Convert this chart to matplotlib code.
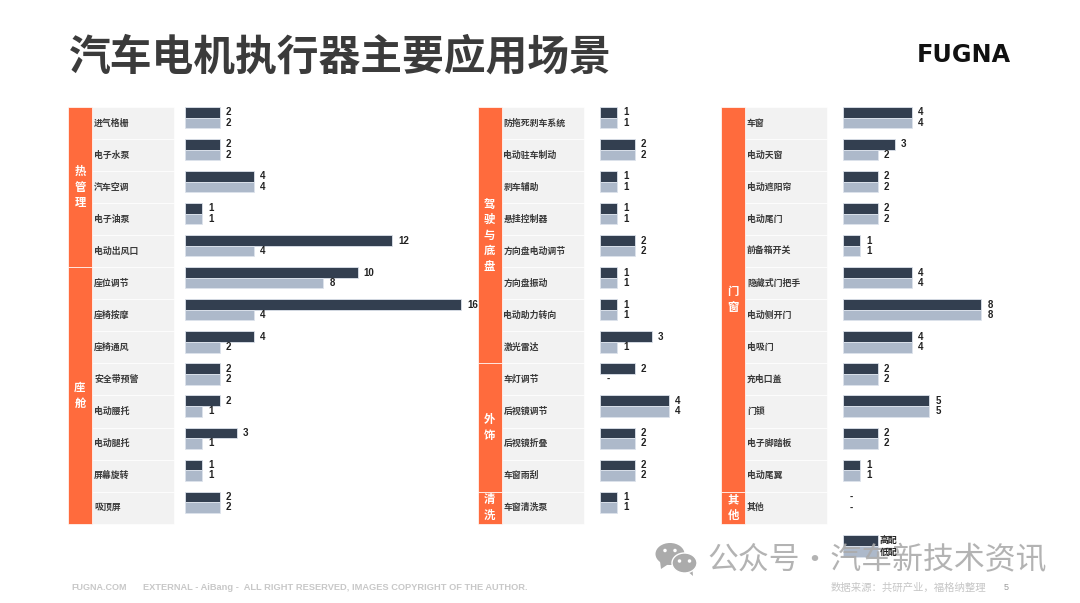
import matplotlib
matplotlib.use('Agg')
import matplotlib.pyplot as plt
from matplotlib.patches import Rectangle, Ellipse, Polygon

plt.rcParams['font.family'] = ['Noto Sans CJK SC', 'DejaVu Sans']

W, H = 1080, 603
ROW_TOP = 107
ROW_H = 32.05
UNIT = 17.25  # pixels for one count

names_1 = ['进气格栅', '电子水泵', '汽车空调', '电子油泵', '电动出风口', '座位调节', '座椅按摩',
           '座椅通风', '安全带预警', '电动腰托', '电动腿托', '屏幕旋转', '吸顶屏']
high_1 = [2, 2, 4, 1, 12, 10, 16, 4, 2, 2, 3, 1, 2]
low_1 = [2, 2, 4, 1, 4, 8, 4, 2, 2, 1, 1, 1, 2]
groups_1 = [('热管理', 5), ('座舱', 8)]

names_2 = ['防拖死刹车系统', '电动驻车制动', '刹车辅助', '悬挂控制器', '方向盘电动调节', '方向盘振动',
           '电动助力转向', '激光雷达', '车灯调节', '后视镜调节', '后视镜折叠', '车窗雨刮', '车窗清洗泵']
high_2 = [1, 2, 1, 1, 2, 1, 1, 3, 2, 4, 2, 2, 1]
low_2 = [1, 2, 1, 1, 2, 1, 1, 1, None, 4, 2, 2, 1]
groups_2 = [('驾驶与底盘', 8), ('外饰', 4), ('清洗', 1)]

names_3 = ['车窗', '电动天窗', '电动遮阳帘', '电动尾门', '前备箱开关', '隐藏式门把手', '电动侧开门',
           '电吸门', '充电口盖', '门锁', '电子脚踏板', '电动尾翼', '其他']
high_3 = [4, 3, 2, 2, 1, 4, 8, 4, 2, 5, 2, 1, None]
low_3 = [4, 2, 2, 2, 1, 4, 8, 4, 2, 5, 2, 1, None]
groups_3 = [('门窗', 12), ('其他', 1)]

ORANGE = '#FF6B3D'
DARK = '#333F50'
LIGHT = '#ADB9CA'
EDGE = '#DDE3EC'
GREY_BG = '#F2F2F2'
TEXT = '#3A3A3A'
MARK = '#ABABAB'

fig = plt.figure(figsize=(W / 100, H / 100), dpi=100)

# overlay in pixel coordinates for the table parts and the page furniture
page = fig.add_axes([0, 0, 1, 1], zorder=1)
page.set_xlim(0, W)
page.set_ylim(H, 0)
page.axis('off')


def panel(x0, bar_x, names, high, low, groups):
    strip_w = 24
    name_w = 82

    # name column with white row lines
    for i, name in enumerate(names):
        y = ROW_TOP + i * ROW_H
        page.add_patch(Rectangle((x0 + strip_w, y), name_w, ROW_H, fc=GREY_BG, ec='white', lw=0.5))
        page.text(x0 + strip_w + 2, y + ROW_H / 2, name, fontsize=6.4, fontweight='bold',
                  color=TEXT, ha='left', va='center')

    # orange group strip, one character per line
    row = 0
    for label, span in groups:
        y = ROW_TOP + row * ROW_H
        h = span * ROW_H
        page.add_patch(Rectangle((x0, y), strip_w, h, fc=ORANGE, ec='white', lw=0.5))
        step = 15.5
        start = y + h / 2 - step * (len(label) - 1) / 2
        for k, ch in enumerate(label):
            page.text(x0 + strip_w / 2, start + k * step, ch, fontsize=8.2, fontweight='bold',
                      color='white', ha='center', va='center')
        row += span

    # bars on their own axes, x in counts and y in rows
    n = len(names)
    width = 290
    ax = fig.add_axes([bar_x / W, 1 - (ROW_TOP + n * ROW_H) / H, width / W, n * ROW_H / H], zorder=2)
    ax.set_xlim(0, width / UNIT)
    ax.set_ylim(n, 0)
    ax.axis('off')
    bar_h = 10.6 / ROW_H
    for i in range(n):
        for vals, color, off in ((high, DARK, 0.5), (low, LIGHT, 1.5)):
            v = vals[i]
            yc = i + off * bar_h
            if v is None:
                ax.text(0.5, yc, '-', fontsize=7, fontweight='bold', family='Liberation Sans',
                        color='#222222', ha='center', va='center')
                continue
            ax.barh(yc, v, height=bar_h, color=color, edgecolor=EDGE, linewidth=0.6)
            ax.annotate(str(v), (v, yc), xytext=(4.5, 0), textcoords='offset points', fontsize=7,
                        fontweight='bold', family='Liberation Sans', color='#222222',
                        ha='left', va='center')


panel(68, 185, names_1, high_1, low_1, groups_1)
panel(477.5, 600, names_2, high_2, low_2, groups_2)
panel(721, 843, names_3, high_3, low_3, groups_3)

page.text(69, 58, '汽车电机执行器主要应用场景', fontsize=30.1, fontweight='bold', color='#3B3B3B',
          ha='left', va='center')
page.text(917, 55, 'FUGNA', fontsize=17.2, fontweight='bold', family='DejaVu Sans', color='#111111',
          ha='left', va='center')

# legend
page.add_patch(Rectangle((843, 535), 35, 11, fc=DARK, ec=EDGE, lw=0.6))
page.add_patch(Rectangle((843, 546), 35, 11, fc=LIGHT, ec=EDGE, lw=0.6))

# footer
page.text(71, 587.5, 'FUGNA.COM', fontsize=6.5, fontweight='bold', family='Liberation Sans', color='#C8C8C8',
          ha='left', va='center')
page.text(143, 587.5, 'EXTERNAL - AiBang -  ALL RIGHT RESERVED, IMAGES COPYRIGHT OF THE AUTHOR.', fontsize=6.65,
          fontweight='bold', family='Liberation Sans', color='#C8C8C8', ha='left', va='center')
page.text(831, 588, '数据来源：共研产业，福格纳整理', fontsize=7.5, color='#C6C6C6', ha='left', va='center')
page.text(1006, 588, '5', fontsize=6.5, family='Liberation Sans', color='#9A9A9A', ha='center', va='center')

# watermark on top of everything
mark = fig.add_axes([0, 0, 1, 1], zorder=3)
mark.set_xlim(0, W)
mark.set_ylim(H, 0)
mark.axis('off')
mark.patch.set_alpha(0)
mark.text(707, 561, '公众号·汽车新技术资讯', fontsize=22.2, color=MARK, alpha=0.9,
          ha='left', va='center')
mark.add_patch(Polygon([(660, 561), (661, 569), (670, 563)], fc=MARK, ec='none'))
mark.add_patch(Ellipse((670, 554), 29, 22, fc=MARK, ec='none'))
mark.add_patch(Polygon([(686, 570), (693, 576), (692, 564)], fc=MARK, ec='none'))
mark.add_patch(Ellipse((684.5, 563), 25, 20, fc=MARK, ec='white', lw=1))
for ex, ey in ((665, 550.5), (675, 550.5), (679.5, 561), (689.5, 561)):
    mark.add_patch(Ellipse((ex, ey), 3.5, 3.5, fc='white', ec='none'))

# legend labels stay readable over the watermark
mark.text(880, 540.5, '高配', fontsize=6.4, fontweight='bold', color='#222222', ha='left', va='center')
mark.text(880, 552.5, '低配', fontsize=6.4, fontweight='bold', color='#222222', ha='left', va='center')

fig.savefig('out.png', dpi=100)
plt.close(fig)
